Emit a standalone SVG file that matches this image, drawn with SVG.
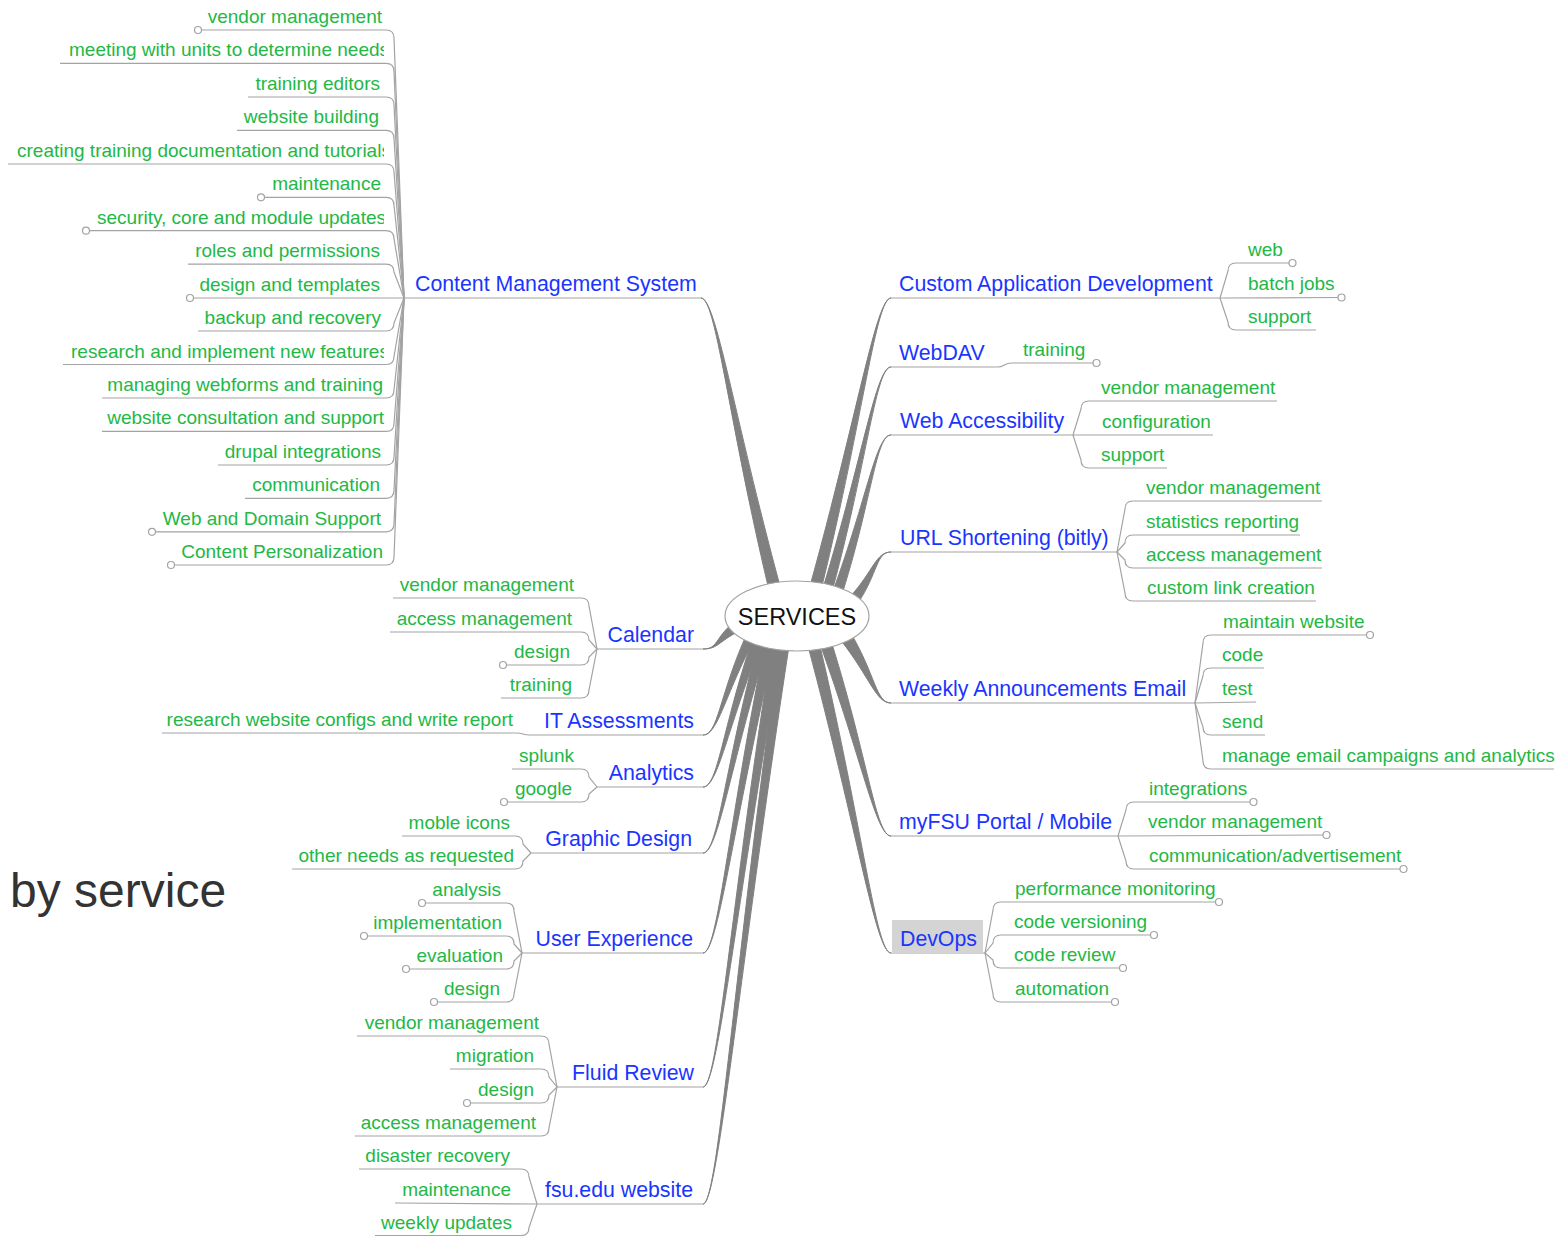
<svg xmlns="http://www.w3.org/2000/svg" width="1560" height="1236" viewBox="0 0 1560 1236">
  <style>
    text { font-family: "Liberation Sans", Arial, sans-serif; }
    .t { font-size: 21.3px; fill: #1a35ff; }
    .c { font-size: 19px; fill: #22b845; }
    .e { text-anchor: end; }
    .u { fill: none; stroke: #a3a3a3; stroke-width: 1.2; }
    .dot { fill: #ffffff; stroke: #a3a3a3; stroke-width: 1.2; }
    .br { fill: #808080; stroke: #808080; stroke-width: 1; stroke-linejoin: round; }
  </style>
  <defs>
    <clipPath id="leftClip"><rect x="0" y="0" width="384" height="600"/></clipPath>
  </defs>
  <rect width="1560" height="1236" fill="#ffffff"/>

  <!-- tapered branches from the centre to each service -->
  <g id="connectors">
    <path class="br" d="M701,298 C716,298 727.2,413.2 768,586 L780,586 C733.2,413.2 716,298 701,298 Z"/>
    <path class="br" d="M891,298 C876,298 858,413.2 810,586 L822,586 C864,413.2 876,298 891,298 Z"/>
    <path class="br" d="M891,367 C876,367 863.3,455.4 823,588 L833,588 C868.3,455.4 876,367 891,367 Z"/>
    <path class="br" d="M891,435 C876,435 867.3,497.4 833,591 L843,591 C872.3,497.4 876,435 891,435 Z"/>
    <path class="br" d="M891,552 C876,552 874.2,569.7 850,597 L858,603 C878.2,572.7 876,552 891,552 Z"/>
    <path class="br" d="M891,703 C876,703 870.5,678.3 841,640.4 L851,633.6 C875.5,674.9 876,703 891,703 Z"/>
    <path class="br" d="M891,836 C876,836 862,759.2 820,644 L832,644 C868,759.2 876,836 891,836 Z"/>
    <path class="br" d="M891,953 C876,953 857.2,830.2 808,646 L820,646 C863.2,830.2 876,953 891,953 Z"/>
    <path class="br" d="M703,649 C718,649 714.8,638.1 733.2,622.8 L738.8,631.2 C717.6,642.3 718,649 703,649 Z"/>
    <path class="br" d="M703,735 C718,735 719.3,696.2 745,638 L755,638 C724.3,696.2 718,735 703,735 Z"/>
    <path class="br" d="M703,787 C718,787 722.1,728.6 752,641 L762,641 C727.1,728.6 718,787 703,787 Z"/>
    <path class="br" d="M703,853 C718,853 724.5,769 758,643 L768,643 C729.5,769 718,853 703,853 Z"/>
    <path class="br" d="M703,953 C718,953 727.3,829.4 765,644 L775,644 C732.3,829.4 718,953 703,953 Z"/>
    <path class="br" d="M703,1087 C718,1087 730.1,910.2 772,645 L782,645 C735.1,910.2 718,1087 703,1087 Z"/>
    <path class="br" d="M703,1204 C718,1204 732.9,980.8 779,646 L789,646 C737.9,980.8 718,1204 703,1204 Z"/>

    <!-- service underlines -->
    <path class="u" d="M404,298 L701,298"/>
    <path class="u" d="M597,649 L703,649"/>
    <path class="u" d="M597,787 L703,787"/>
    <path class="u" d="M531,853 L703,853"/>
    <path class="u" d="M522,953 L703,953"/>
    <path class="u" d="M557,1087 L703,1087"/>
    <path class="u" d="M537,1204 L703,1204"/>
    <path class="u" d="M891,298 L1220,298"/>
    <path class="u" d="M891,367 L998,367"/>
    <path class="u" d="M891,435 L1073,435"/>
    <path class="u" d="M891,552 L1117,552"/>
    <path class="u" d="M891,703 L1195,703"/>
    <path class="u" d="M891,836 L1118,836"/>
    <path class="u" d="M891,953 L985,953"/>

    <!-- Content Management System items -->
    <path class="u" d="M202,30 L386,30 Q394,30 394,38 L404,298"/>
    <path class="u" d="M60,63.4 L386,63.4 Q394,63.4 394,71.4 L404,298"/>
    <path class="u" d="M248,97 L386,97 Q394,97 394,105 L404,298"/>
    <path class="u" d="M237,130.4 L386,130.4 Q394,130.4 394,138.4 L404,298"/>
    <path class="u" d="M8,164 L386,164 Q394,164 394,172 L404,298"/>
    <path class="u" d="M265,197.3 L386,197.3 Q394,197.3 394,205.3 L404,298"/>
    <path class="u" d="M90,230.7 L386,230.7 Q394,230.7 394,238.7 L404,298"/>
    <path class="u" d="M188,264.2 L386,264.2 Q394,264.2 394,272.2 L404,298"/>
    <path class="u" d="M194,298 L404,298"/>
    <path class="u" d="M198,331 L386,331 Q394,331 394,323 L404,298"/>
    <path class="u" d="M63,364.5 L386,364.5 Q394,364.5 394,356.5 L404,298"/>
    <path class="u" d="M102,398 L386,398 Q394,398 394,390 L404,298"/>
    <path class="u" d="M102,431.4 L386,431.4 Q394,431.4 394,423.4 L404,298"/>
    <path class="u" d="M218,465 L386,465 Q394,465 394,457 L404,298"/>
    <path class="u" d="M245,498.3 L386,498.3 Q394,498.3 394,490.3 L404,298"/>
    <path class="u" d="M156,531.8 L386,531.8 Q394,531.8 394,523.8 L404,298"/>
    <path class="u" d="M175,565 L386,565 Q394,565 394,557 L404,298"/>

    <!-- Calendar items -->
    <path class="u" d="M393,598 L581,598 Q589,598 589,606 L597,649"/>
    <path class="u" d="M390,632 L581,632 Q589,632 589,640 L597,649"/>
    <path class="u" d="M507,665 L581,665 Q589,665 589,657 L597,649"/>
    <path class="u" d="M501,698 L581,698 Q589,698 589,690 L597,649"/>
    <!-- IT Assessments -->
    <path class="u" d="M162,733 L516,733 C524,733 522,735 530,735 L703,735"/>
    <!-- Analytics -->
    <path class="u" d="M512,769 L581,769 Q589,769 589,777 L597,787"/>
    <path class="u" d="M508,802 L581,802 Q589,802 589,794 L597,787"/>
    <!-- Graphic Design -->
    <path class="u" d="M402,836 L515,836 Q523,836 523,844 L531,853"/>
    <path class="u" d="M292,869 L515,869 Q523,869 523,861 L531,853"/>
    <!-- User Experience -->
    <path class="u" d="M426,903 L506,903 Q514,903 514,911 L522,953"/>
    <path class="u" d="M368,936 L506,936 Q514,936 514,944 L522,953"/>
    <path class="u" d="M410,969 L506,969 Q514,969 514,961 L522,953"/>
    <path class="u" d="M438,1002 L506,1002 Q514,1002 514,994 L522,953"/>
    <!-- Fluid Review -->
    <path class="u" d="M357,1036 L541,1036 Q549,1036 549,1044 L557,1087"/>
    <path class="u" d="M450,1069 L541,1069 Q549,1069 549,1077 L557,1087"/>
    <path class="u" d="M471,1103 L541,1103 Q549,1103 549,1095 L557,1087"/>
    <path class="u" d="M355,1136 L541,1136 Q549,1136 549,1128 L557,1087"/>
    <!-- fsu.edu website -->
    <path class="u" d="M359,1169 L521,1169 Q529,1169 529,1177 L537,1204"/>
    <path class="u" d="M395,1203 L537,1204"/>
    <path class="u" d="M375,1235.5 L521,1235.5 Q529,1235.5 529,1227.5 L537,1204"/>

    <!-- Custom Application Development -->
    <path class="u" d="M1289,263 L1236,263 Q1228,263 1228,271 L1220,298"/>
    <path class="u" d="M1338,297.5 L1220,298"/>
    <path class="u" d="M1316,330 L1236,330 Q1228,330 1228,322 L1220,298"/>
    <!-- WebDAV -->
    <path class="u" d="M998,367 C1004,367 1004,363 1012,363 L1093,363"/>
    <!-- Web Accessibility -->
    <path class="u" d="M1277,401 L1089,401 Q1081,401 1081,409 L1073,435"/>
    <path class="u" d="M1213,435 L1073,435"/>
    <path class="u" d="M1167,468 L1089,468 Q1081,468 1081,460 L1073,435"/>
    <!-- URL Shortening -->
    <path class="u" d="M1322,501 L1133,501 Q1125,501 1125,509 L1117,552"/>
    <path class="u" d="M1300,535 L1133,535 Q1125,535 1125,543 L1117,552"/>
    <path class="u" d="M1322,568 L1133,568 Q1125,568 1125,560 L1117,552"/>
    <path class="u" d="M1316,601 L1133,601 Q1125,601 1125,593 L1117,552"/>
    <!-- Weekly Announcements Email -->
    <path class="u" d="M1366,635 L1211,635 Q1203,635 1203,643 L1195,703"/>
    <path class="u" d="M1264,668 L1211,668 Q1203,668 1203,676 L1195,703"/>
    <path class="u" d="M1256,702 L1195,703"/>
    <path class="u" d="M1265,735 L1211,735 Q1203,735 1203,727 L1195,703"/>
    <path class="u" d="M1554,769 L1211,769 Q1203,769 1203,761 L1195,703"/>
    <!-- myFSU Portal / Mobile -->
    <path class="u" d="M1250,802 L1134,802 Q1126,802 1126,810 L1118,836"/>
    <path class="u" d="M1323,835 L1118,836"/>
    <path class="u" d="M1400,869 L1134,869 Q1126,869 1126,861 L1118,836"/>
    <!-- DevOps -->
    <path class="u" d="M1215,902 L1001,902 Q993,902 993,910 L985,953"/>
    <path class="u" d="M1150,935 L1001,935 Q993,935 993,943 L985,953"/>
    <path class="u" d="M1119,968 L1001,968 Q993,968 993,960 L985,953"/>
    <path class="u" d="M1111,1002 L1001,1002 Q993,1002 993,994 L985,953"/>

    <!-- collapsed-branch markers -->
    <circle class="dot" cx="198" cy="30" r="3.5"/>
    <circle class="dot" cx="261" cy="197.3" r="3.5"/>
    <circle class="dot" cx="86" cy="230.7" r="3.5"/>
    <circle class="dot" cx="190" cy="298" r="3.5"/>
    <circle class="dot" cx="152" cy="531.8" r="3.5"/>
    <circle class="dot" cx="171" cy="565" r="3.5"/>
    <circle class="dot" cx="503" cy="665" r="3.5"/>
    <circle class="dot" cx="504" cy="802" r="3.5"/>
    <circle class="dot" cx="422" cy="903" r="3.5"/>
    <circle class="dot" cx="364" cy="936" r="3.5"/>
    <circle class="dot" cx="406" cy="969" r="3.5"/>
    <circle class="dot" cx="434" cy="1002" r="3.5"/>
    <circle class="dot" cx="467" cy="1103" r="3.5"/>
    <circle class="dot" cx="1292.5" cy="263" r="3.5"/>
    <circle class="dot" cx="1341.5" cy="297.5" r="3.5"/>
    <circle class="dot" cx="1096.5" cy="363" r="3.5"/>
    <circle class="dot" cx="1370" cy="635" r="3.5"/>
    <circle class="dot" cx="1253.5" cy="802" r="3.5"/>
    <circle class="dot" cx="1326.5" cy="835" r="3.5"/>
    <circle class="dot" cx="1403.5" cy="869" r="3.5"/>
    <circle class="dot" cx="1219" cy="902" r="3.5"/>
    <circle class="dot" cx="1154" cy="935" r="3.5"/>
    <circle class="dot" cx="1123" cy="968" r="3.5"/>
    <circle class="dot" cx="1115" cy="1002" r="3.5"/>
  </g>

  <!-- central topic -->
  <g id="services">
    <ellipse cx="797" cy="616" rx="72" ry="35" fill="#ffffff" stroke="#a3a3a3" stroke-width="1.2"/>
    <text x="797" y="624.5" font-size="23.5" text-anchor="middle" fill="#111111">SERVICES</text>
  </g>

  <text x="10" y="907" font-size="48" fill="#333333">by service</text>

  <g id="cms">
    <text class="t" x="415" y="291">Content Management System</text>
    <text class="c e" x="382" y="23">vendor management</text>
    <text class="c" x="69" y="56.4" clip-path="url(#leftClip)">meeting with units to determine needs</text>
    <text class="c e" x="380" y="90">training editors</text>
    <text class="c e" x="379" y="123.4">website building</text>
    <text class="c" x="17" y="157" clip-path="url(#leftClip)">creating training documentation and tutorials</text>
    <text class="c e" x="381" y="190.3">maintenance</text>
    <text class="c" x="97" y="223.7" clip-path="url(#leftClip)">security, core and module updates</text>
    <text class="c e" x="380" y="257.2">roles and permissions</text>
    <text class="c e" x="380" y="290.6">design and templates</text>
    <text class="c e" x="381" y="324">backup and recovery</text>
    <text class="c" x="71" y="357.5" clip-path="url(#leftClip)">research and implement new features</text>
    <text class="c e" x="383" y="391">managing webforms and training</text>
    <text class="c e" x="384" y="424.4">website consultation and support</text>
    <text class="c e" x="381" y="458">drupal integrations</text>
    <text class="c e" x="380" y="491.3">communication</text>
    <text class="c e" x="381" y="524.8">Web and Domain Support</text>
    <text class="c e" x="383" y="558">Content Personalization</text>
  </g>

  <g id="calendar">
    <text class="t e" x="694" y="642">Calendar</text>
    <text class="c e" x="574" y="591">vendor management</text>
    <text class="c e" x="572" y="625">access management</text>
    <text class="c e" x="570" y="658">design</text>
    <text class="c e" x="572" y="691">training</text>
  </g>

  <g id="it-assessments">
    <text class="t e" x="694" y="728">IT Assessments</text>
    <text class="c e" x="513" y="726">research website configs and write report</text>
  </g>

  <g id="analytics">
    <text class="t e" x="694" y="780">Analytics</text>
    <text class="c e" x="574" y="762">splunk</text>
    <text class="c e" x="572" y="795">google</text>
  </g>

  <g id="graphic-design">
    <text class="t e" x="692" y="846">Graphic Design</text>
    <text class="c e" x="510" y="829">moble icons</text>
    <text class="c e" x="514" y="862">other needs as requested</text>
  </g>

  <g id="user-experience">
    <text class="t e" x="693" y="946">User Experience</text>
    <text class="c e" x="501" y="896">analysis</text>
    <text class="c e" x="502" y="929">implementation</text>
    <text class="c e" x="503" y="962">evaluation</text>
    <text class="c e" x="500" y="995">design</text>
  </g>

  <g id="fluid-review">
    <text class="t e" x="694" y="1080">Fluid Review</text>
    <text class="c e" x="539" y="1029">vendor management</text>
    <text class="c e" x="534" y="1062">migration</text>
    <text class="c e" x="534" y="1096">design</text>
    <text class="c e" x="536" y="1129">access management</text>
  </g>

  <g id="fsu-website">
    <text class="t e" x="693" y="1197">fsu.edu website</text>
    <text class="c e" x="510" y="1162">disaster recovery</text>
    <text class="c e" x="511" y="1196">maintenance</text>
    <text class="c e" x="512" y="1229">weekly updates</text>
  </g>

  <g id="custom-app">
    <text class="t" x="899" y="291">Custom Application Development</text>
    <text class="c" x="1248" y="256">web</text>
    <text class="c" x="1248" y="290">batch jobs</text>
    <text class="c" x="1248" y="323">support</text>
  </g>

  <g id="webdav">
    <text class="t" x="899" y="360">WebDAV</text>
    <text class="c" x="1023" y="356">training</text>
  </g>

  <g id="web-accessibility">
    <text class="t" x="900" y="428">Web Accessibility</text>
    <text class="c" x="1101" y="394">vendor management</text>
    <text class="c" x="1102" y="428">configuration</text>
    <text class="c" x="1101" y="461">support</text>
  </g>

  <g id="url-shortening">
    <text class="t" x="900" y="545">URL Shortening (bitly)</text>
    <text class="c" x="1146" y="494">vendor management</text>
    <text class="c" x="1146" y="528">statistics reporting</text>
    <text class="c" x="1146" y="561">access management</text>
    <text class="c" x="1147" y="594">custom link creation</text>
  </g>

  <g id="weekly-email">
    <text class="t" x="899" y="696">Weekly Announcements Email</text>
    <text class="c" x="1223" y="628">maintain website</text>
    <text class="c" x="1222" y="661">code</text>
    <text class="c" x="1222" y="695">test</text>
    <text class="c" x="1222" y="728">send</text>
    <text class="c" x="1222" y="762">manage email campaigns and analytics</text>
  </g>

  <g id="myfsu">
    <text class="t" x="899" y="829">myFSU Portal / Mobile</text>
    <text class="c" x="1149" y="795">integrations</text>
    <text class="c" x="1148" y="828">vendor management</text>
    <text class="c" x="1149" y="862">communication/advertisement</text>
  </g>

  <g id="devops">
    <rect x="892" y="920" width="91" height="33" fill="#d4d4d4"/>
    <text class="t" x="900" y="946">DevOps</text>
    <text class="c" x="1015" y="895">performance monitoring</text>
    <text class="c" x="1014" y="928">code versioning</text>
    <text class="c" x="1014" y="961">code review</text>
    <text class="c" x="1015" y="995">automation</text>
  </g>
</svg>
